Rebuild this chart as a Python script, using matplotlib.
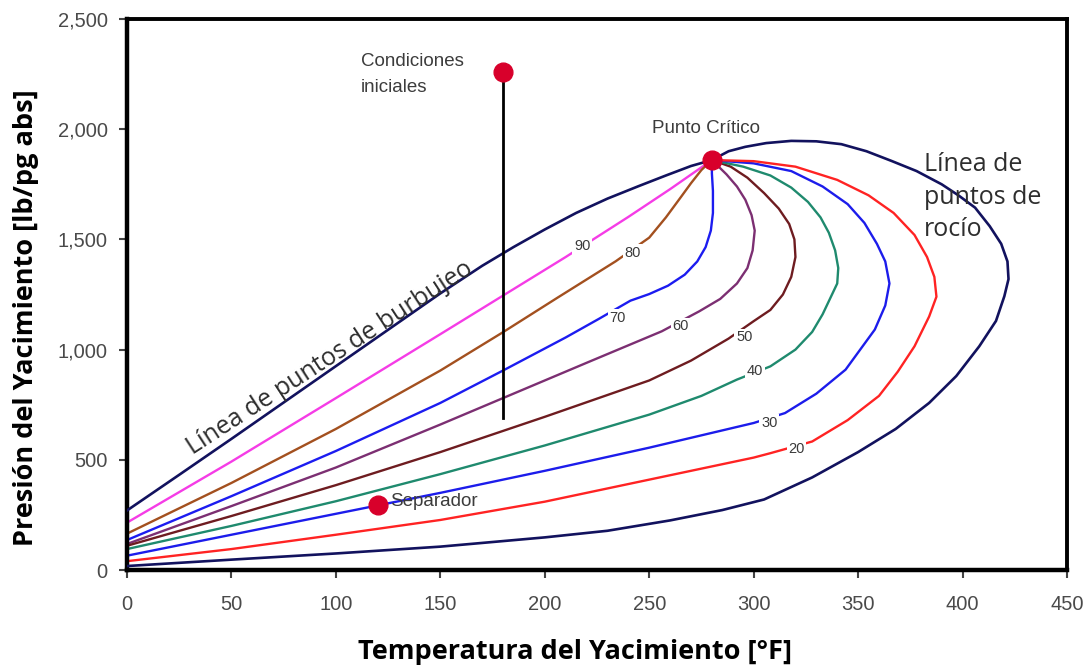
import matplotlib
matplotlib.use("Agg")
import matplotlib.pyplot as plt
from matplotlib.ticker import FuncFormatter

# Reservoir temperature (°F) and pressure (psia) along each envelope line
bubble_T = [0, 25, 50, 75, 100, 125, 150, 170, 185, 200, 215, 230, 245, 258, 270, 280]
bubble_P = [270, 432, 595, 760, 925, 1090, 1255, 1380, 1465, 1545, 1620, 1685, 1742, 1790, 1833, 1860]

dew_T = [0, 50, 100, 150, 200, 230, 260, 285, 305, 328, 350, 368, 384, 397, 408, 416, 420,
         422, 421.5, 418.5, 413, 406, 398, 390, 378, 366, 354, 342, 330, 318, 306, 296, 288, 280]
dew_P = [18, 47, 75, 106, 148, 178, 225, 272, 320, 420, 535, 640, 758, 880, 1015, 1130, 1242,
         1320, 1400, 1480, 1560, 1644, 1700, 1750, 1810, 1856, 1900, 1932, 1945, 1947, 1937, 1920,
         1900, 1860]

# Iso-quality lines (% liquid)
q90_T = [0, 50, 100, 150, 180, 210, 240, 260, 280]
q90_P = [215, 492, 780, 1070, 1245, 1420, 1602, 1728, 1860]

q80_T = [0, 50, 100, 150, 180, 206, 234, 250, 258, 265, 270, 275, 280]
q80_P = [165, 395, 640, 905, 1079, 1235, 1401, 1508, 1600, 1690, 1755, 1815, 1860]

q70_T = [0, 50, 100, 150, 180, 210, 226, 241, 250, 259, 267, 273, 277, 279.5, 280.5, 280.5, 280, 280]
q70_P = [136, 335, 540, 758, 905, 1055, 1140, 1222, 1252, 1290, 1340, 1400, 1465, 1540, 1620,
         1720, 1800, 1860]

q60_T = [0, 50, 100, 150, 180, 220, 256, 274, 284, 292, 297, 299.5, 300.5, 299, 296, 292, 287, 280]
q60_P = [118, 290, 465, 660, 780, 940, 1083, 1174, 1230, 1300, 1370, 1450, 1540, 1610, 1680,
         1740, 1795, 1860]

q50_T = [0, 50, 100, 150, 200, 250, 270, 288, 300, 308, 314, 318, 320, 319.5, 317, 312, 305,
         297, 289, 280]
q50_P = [110, 245, 385, 535, 695, 860, 950, 1050, 1129, 1180, 1250, 1330, 1420, 1500, 1570,
         1640, 1710, 1780, 1830, 1860]

q40_T = [0, 50, 100, 150, 200, 250, 275, 292, 308, 320, 328, 333, 337, 340, 340.5, 339, 336,
         332, 326, 318, 308, 295, 280]
q40_P = [95, 200, 312, 435, 565, 705, 790, 864, 924, 1000, 1080, 1160, 1240, 1300, 1370, 1450,
         1530, 1600, 1670, 1735, 1790, 1830, 1860]

q30_T = [0, 50, 100, 120, 150, 200, 250, 300, 315, 330, 344, 351, 358, 363, 365, 363, 359, 353,
         345, 333, 318, 300, 280]
q30_P = [65, 160, 255, 293, 350, 450, 555, 667, 712, 800, 909, 1000, 1091, 1200, 1300, 1400,
         1480, 1575, 1660, 1740, 1810, 1845, 1860]

q20_T = [0, 50, 100, 150, 200, 250, 300, 308, 328, 345, 360, 369, 377, 384, 387.5, 386.5, 383,
         377, 367, 355, 340, 320, 300, 280]
q20_P = [40, 95, 160, 227, 310, 410, 510, 530, 583, 680, 790, 900, 1015, 1150, 1240, 1330,
         1420, 1520, 1620, 1700, 1770, 1830, 1855, 1860]

quality_labels = ["90", "80", "70", "60", "50", "40", "30", "20"]
label_T = [218, 242, 235, 265, 295.5, 300.5, 307.5, 320.5]
label_P = [1468, 1438, 1145, 1105, 1055, 905, 668, 550]

# Key points
critical_T, critical_P = 280, 1860
initial_T, initial_P = 180, 2260
depletion_end_P = 690
separator_T, separator_P = 120, 295

x_ticks = [0, 50, 100, 150, 200, 250, 300, 350, 400, 450]
y_ticks = [0, 500, 1000, 1500, 2000, 2500]

navy = "#12125e"
quality_colors = ["#f53ce6", "#a3501f", "#1c1cf0", "#7c2f72", "#6e1c20",
                  "#1f8a6e", "#1c1ceb", "#ff2323"]

fig = plt.figure(figsize=(10.88, 6.68), dpi=100)
ax = fig.add_axes([127 / 1088, 98 / 668, 940 / 1088, 551 / 668])

lw = 1.7
quality_T = [q90_T, q80_T, q70_T, q60_T, q50_T, q40_T, q30_T, q20_T]
quality_P = [q90_P, q80_P, q70_P, q60_P, q50_P, q40_P, q30_P, q20_P]
for T, P, c in zip(quality_T, quality_P, quality_colors):
    ax.plot(T, P, color=c, lw=lw, solid_joinstyle="round", zorder=2)

ax.plot(bubble_T, bubble_P, color=navy, lw=lw + 0.2, solid_joinstyle="round", zorder=3)
ax.plot(dew_T, dew_P, color=navy, lw=lw + 0.2, solid_joinstyle="round", zorder=3)

for s, T, P in zip(quality_labels, label_T, label_P):
    ax.text(T, P, s, fontsize=10.5, color="#3a3a3a", family="Liberation Sans",
            ha="center", va="center", zorder=4,
            bbox=dict(boxstyle="square,pad=0.12", fc="white", ec="none"))

# Isothermal depletion path from the initial conditions
ax.plot([initial_T, initial_T], [initial_P, depletion_end_P], color="black", lw=2.0, zorder=5)

red = "#d8002b"
ax.plot([initial_T, critical_T, separator_T], [initial_P, critical_P, separator_P],
        ls="none", marker="o", ms=13.5, color=red, mec=red, zorder=6)

txt = dict(family="Liberation Sans", color="#3c3c3c", fontsize=13.5)
ax.text(112, 2309, "Condiciones", ha="left", va="center", **txt)
ax.text(112, 2190, "iniciales", ha="left", va="center", **txt)
ax.text(277, 2005, "Punto Crítico", ha="center", va="center", **txt)
ax.text(126, 309, "Separador", ha="left", va="center", **txt)

big = dict(family="Open Sans", color="#2e2e2e", fontsize=18)
ax.text(97, 962, "Línea de puntos de burbujeo", ha="center", va="center",
        rotation=33, rotation_mode="anchor", **big)
ax.text(381.5, 1895, "Línea de\npuntos de\nrocío", ha="left", va="top",
        linespacing=1.38, **big)

ax.set_xlim(0, 450)
ax.set_ylim(0, 2500)
ax.set_xticks(x_ticks)
ax.set_yticks(y_ticks)
ax.yaxis.set_major_formatter(FuncFormatter(lambda v, p: f"{int(v):,}"))
for lab in ax.get_xticklabels() + ax.get_yticklabels():
    lab.set_family("Liberation Sans")
    lab.set_fontsize(14.5)
    lab.set_color("#4a4a4a")
ax.tick_params(axis="both", direction="out", length=6, width=1.5, color="#444444")
ax.tick_params(axis="x", pad=12)
ax.tick_params(axis="y", pad=8)
for side in ["left", "bottom"]:
    ax.spines[side].set_linewidth(3.2)
for side in ["top", "right"]:
    ax.spines[side].set_linewidth(2.8)
for sp in ax.spines.values():
    sp.set_color("black")

fig.text(575 / 1088, 1 - 652 / 668, "Temperatura del Yacimiento [°F]",
         ha="center", va="center", family="Open Sans", fontweight="bold",
         fontsize=19.5, color="black")
fig.text(26 / 1088, 1 - 318 / 668, "Presión del Yacimiento [lb/pg abs]",
         ha="center", va="center", rotation=90, family="Open Sans",
         fontweight="bold", fontsize=19.5, color="black")

fig.savefig("out.png", dpi=100)
